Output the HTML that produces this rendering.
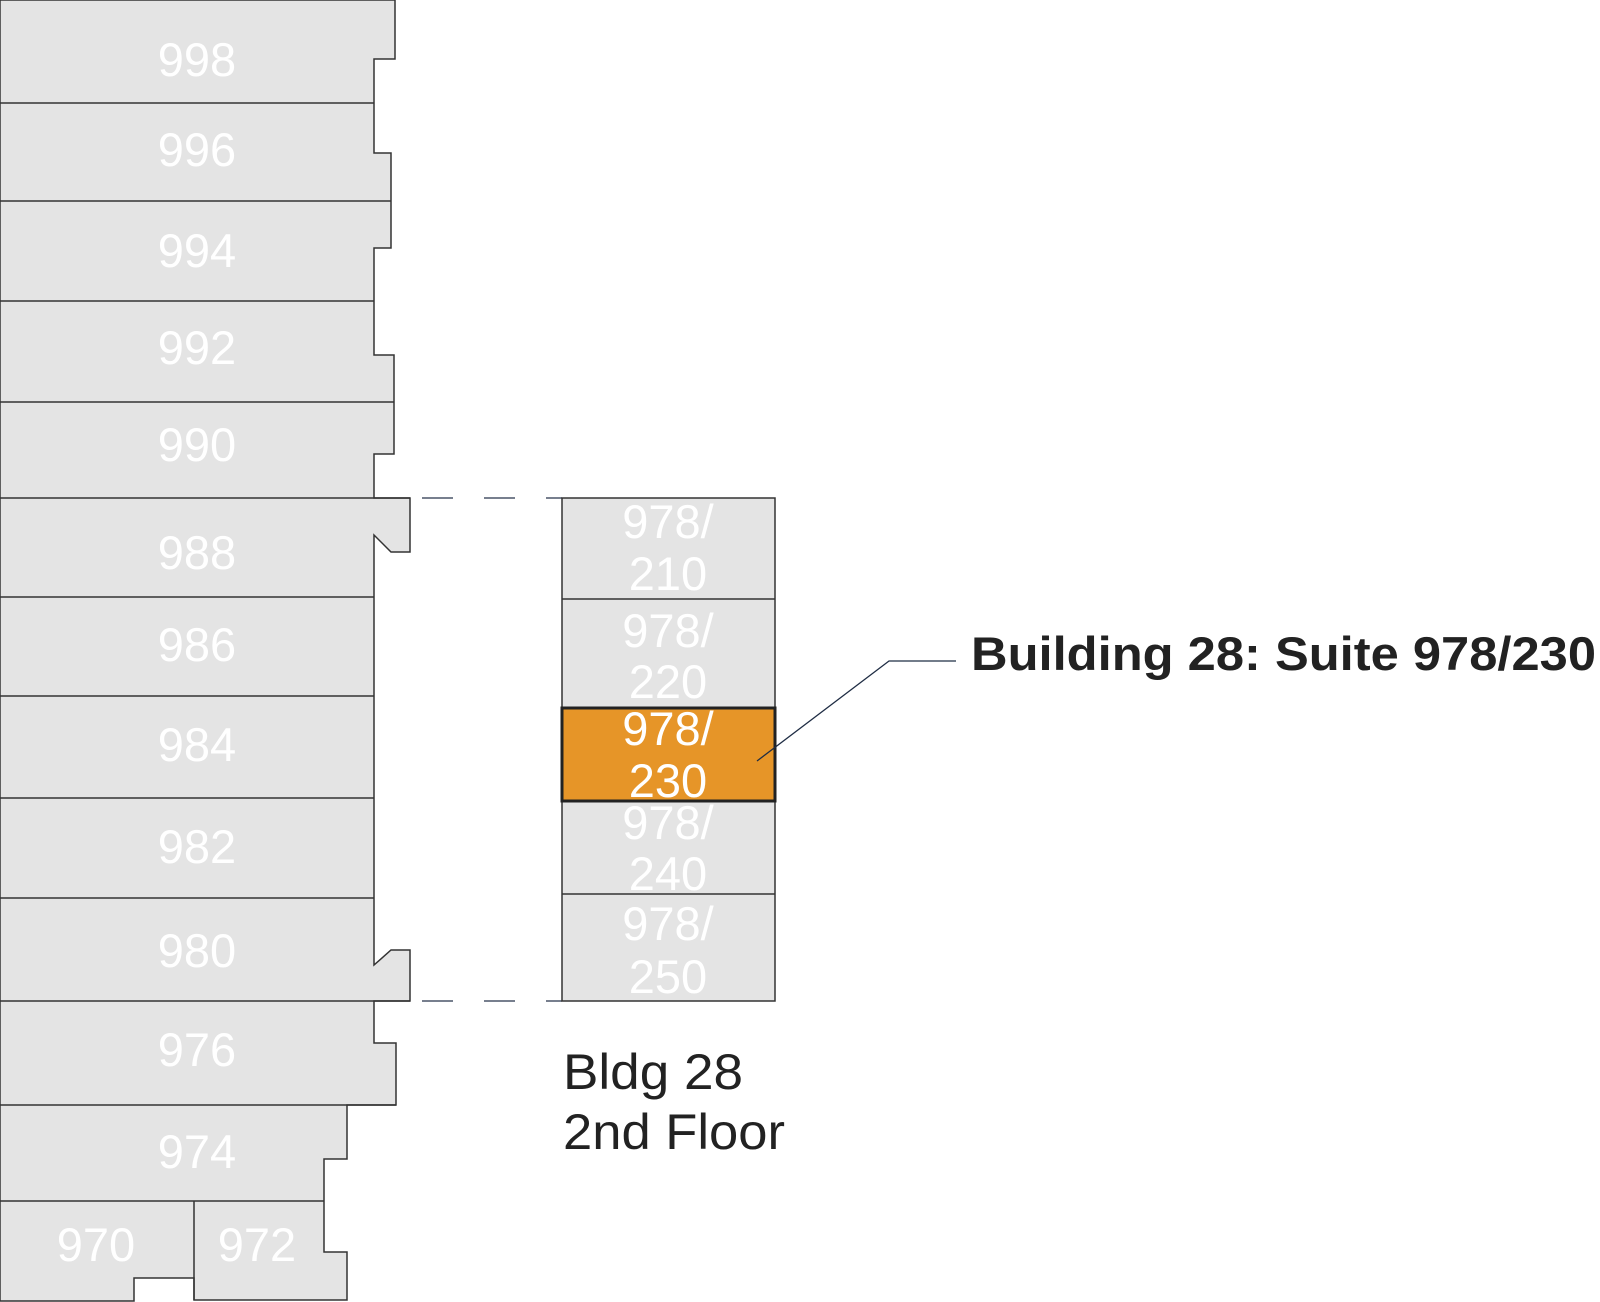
<!DOCTYPE html>
<html><head><meta charset="utf-8"><style>
html,body{margin:0;padding:0;background:#fff;}
svg{display:block;}
.n{font-family:"Liberation Sans",Arial,sans-serif;font-size:47px;fill:#fff;text-anchor:middle;}
</style></head><body>
<svg width="1600" height="1302" viewBox="0 0 1600 1302" xmlns="http://www.w3.org/2000/svg">
<path d="M0,0 H395 V59 H374 V153 H391 V248 H374 V355 H394 V454 H374 V498 H410 V552 H391 L374,535 V965 L391,950 H410 V1001 H374 V1043 H396 V1105 H347 V1159 H324 V1252 H347 V1300 H194 V1278 H134 V1301 H0 Z" fill="#e4e4e4" stroke="#333" stroke-width="1.5"/>
<g stroke="#333" stroke-width="1.5">
<line x1="0" y1="103" x2="374" y2="103"/>
<line x1="0" y1="201" x2="391" y2="201"/>
<line x1="0" y1="301" x2="374" y2="301"/>
<line x1="0" y1="402" x2="394" y2="402"/>
<line x1="0" y1="498" x2="410" y2="498"/>
<line x1="0" y1="597" x2="374" y2="597"/>
<line x1="0" y1="696" x2="374" y2="696"/>
<line x1="0" y1="798" x2="374" y2="798"/>
<line x1="0" y1="898" x2="374" y2="898"/>
<line x1="0" y1="1001" x2="410" y2="1001"/>
<line x1="0" y1="1105" x2="396" y2="1105"/>
<line x1="0" y1="1201" x2="324" y2="1201"/>
<line x1="194" y1="1201" x2="194" y2="1300"/>
</g>
<g stroke="#4a5568" stroke-width="1.5" stroke-dasharray="31 31">
<line x1="422" y1="498" x2="562" y2="498"/>
<line x1="422" y1="1001" x2="562" y2="1001"/>
</g>
<rect x="562" y="498" width="213" height="503" fill="#e4e4e4" stroke="#333" stroke-width="1.5"/>
<g stroke="#333" stroke-width="1.5">
<line x1="562" y1="599" x2="775" y2="599"/>
<line x1="562" y1="894" x2="775" y2="894"/>
</g>
<rect x="562" y="708" width="213" height="93" fill="#e69528" stroke="#222" stroke-width="3"/>
<polyline points="757,761 889,661 956,661" fill="none" stroke="#1f2d44" stroke-width="1.3"/>
<g class="n">
<text x="197" y="76">998</text>
<text x="197" y="166">996</text>
<text x="197" y="267">994</text>
<text x="197" y="364">992</text>
<text x="197" y="461">990</text>
<text x="197" y="569">988</text>
<text x="197" y="661">986</text>
<text x="197" y="761">984</text>
<text x="197" y="863">982</text>
<text x="197" y="967">980</text>
<text x="197" y="1066">976</text>
<text x="197" y="1168">974</text>
<text x="96" y="1261">970</text>
<text x="257" y="1261">972</text>
<text x="668" y="538">978/</text><text x="668" y="590">210</text>
<text x="668" y="647">978/</text><text x="668" y="698">220</text>
<text x="668" y="745">978/</text><text x="668" y="797">230</text>
<text x="668" y="839">978/</text><text x="668" y="890">240</text>
<text x="668" y="940">978/</text><text x="668" y="993">250</text>
</g>
<text x="971" y="670" font-family="Liberation Sans,Arial,sans-serif" font-size="47" font-weight="bold" fill="#222" textLength="625" lengthAdjust="spacingAndGlyphs">Building 28: Suite 978/230</text>
<text x="563" y="1089" font-family="Liberation Sans,Arial,sans-serif" font-size="50" fill="#222" textLength="180" lengthAdjust="spacingAndGlyphs">Bldg 28</text>
<text x="563" y="1149" font-family="Liberation Sans,Arial,sans-serif" font-size="50" fill="#222" textLength="222" lengthAdjust="spacingAndGlyphs">2nd Floor</text>
</svg>
</body></html>
